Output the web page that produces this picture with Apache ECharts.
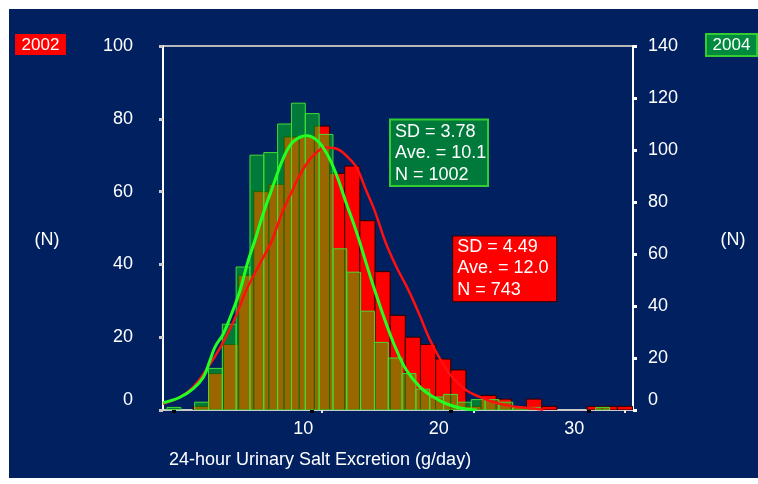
<!DOCTYPE html>
<html>
<head>
<meta charset="utf-8">
<script src="https://cdn.jsdelivr.net/npm/echarts@6/dist/echarts.min.js"></script>
<style>html,body{margin:0;padding:0;background:#fff}#c{width:758px;height:484px}</style>
</head>
<body>
<div id="c"></div>
<script>
// ---- data ----
// 2002 histogram (left axis), bins of 1 g/day centred on integers
const bins2002 = [0,1,2,3,4,5,6,7,8,9,10,11,12,13,14,15,16,17,18,19,20,21,22,23,24,25,26,27,28,29,30];
const counts2002 = [0,0,1,10,18,37,60,62,75,75,78,65,67,52,38,26,20,18,14,11,1,4,3,1,3,1,0,0,1,1,1];
// 2004 histogram (right axis)
const bins2004 = [0,1,2,3,4,5,6,7,8,9,10,11,12,13,14,15,16,17,18,19,20,21,22,23,24,25,26,27,28,29,30,31];
const counts2004 = [1,0,3,16,33,55,98,99,110,118,114,106,62,53,38,26,20,14,8,5,6,3,4,4,3,1,1,0,0,0,0,1];
// fitted curves
const curve2002X = [-0.5,0.6,1.5,2.4,3.3,4.15,5.0,5.9,6.7,7.35,8.0,8.65,9.45,10.3,11.0,11.7,12.3,12.9,13.5,14.2,14.95,15.7,16.45,17.1,17.8,18.6,19.5,20.4,21.3,22.3,23.4,24.6];
const curve2002Y = [1.7,3.5,6.3,11.3,17.3,24.2,32.9,40.2,46.6,54.0,59.9,65.4,70.0,72.1,71.7,69.5,66.5,60.5,54.5,46.0,39.0,33.0,26.0,19.5,14.0,9.0,5.5,3.6,2.2,1.2,0.6,0.1];
const curve2004X = [-0.77,0.44,1.4,2.13,2.61,2.97,3.57,4.18,4.78,5.38,5.86,6.46,7.19,7.91,8.63,9.6,10.33,11.05,11.77,12.4,13.2,13.9,14.6,15.4,16.1,16.8,17.8,18.8,19.7,20.7,21.9];
const curve2004Y = [2.8,4.9,8.2,12.6,19.1,24.2,29.3,37.1,46.0,57.6,65.3,75.6,86.5,96.8,103.2,105.5,103.8,98.7,90.3,80.5,68.5,56.5,44.8,32.5,23.0,15.5,8.8,4.9,2.4,0.8,0];
const xTickLabels = [10,20,30];
const leftTicks = [0,20,40,60,80,100];
const rightTicks = [0,20,40,60,80,100,120,140];
const stats2004 = ['SD = 3.78','Ave. = 10.1','N = 1002'];
const stats2002 = ['SD = 4.49','Ave. = 12.0','N = 743'];
const xTitle = '24-hour Urinary Salt Excretion (g/day)';

const FONT = 'Liberation Sans, Arial, sans-serif';
const chart = echarts.init(document.getElementById('c'), null, {renderer:'canvas'});

function barRenderer(fill, stroke, lw) {
  return function (params, api) {
    const v = api.value(0), h = api.value(1);
    if (!h) return null;
    const p0 = api.coord([v - 0.5, h]);
    const p1 = api.coord([v + 0.5, 0]);
    return {
      type: 'rect',
      shape: {x: p0[0], y: p0[1], width: p1[0] - p0[0], height: p1[1] - p0[1]},
      style: {fill: fill, stroke: stroke, lineWidth: lw}
    };
  };
}
const zeroFmt = v => v === 0 ? '{z|0}' : String(v);
const yLabel = (margin) => ({
  color:'#fff', fontSize:18, fontFamily:FONT, margin: margin, formatter: zeroFmt,
  rich:{z:{color:'#fff', fontSize:18, fontFamily:FONT, padding:[0,0,20,0]}}
});

chart.setOption({
  animation:false,
  backgroundColor:'#ffffff',
  grid:{left:163, right:125, top:46, bottom:74, show:true, borderColor:'#b8b8b8', borderWidth:2, backgroundColor:'transparent'},
  xAxis:[
    {type:'value', position:'bottom', min:-0.788, max:33.196,
     axisLine:{show:true, onZero:false, lineStyle:{color:'#d0d0d0', width:1.5}},
     axisTick:{show:true, customValues:[0,10,20,30], length:3, lineStyle:{color:'#000', width:4}},
     axisLabel:{show:false}, splitLine:{show:false}},
    {type:'value', position:'bottom', min:-0.495, max:30.53,
     axisLine:{show:false, onZero:false},
     axisTick:{show:true, customValues:[10,20,30], length:3, lineStyle:{color:'#e8e8e8', width:2}},
     axisLabel:{show:false}, splitLine:{show:false}},
    {type:'value', position:'bottom', min:-0.354, max:34.33,
     axisLine:{show:false, onZero:false}, axisTick:{show:false}, splitLine:{show:false},
     axisLabel:{show:true, customValues:xTickLabels, color:'#fff', fontSize:18, fontFamily:FONT, margin:10}}
  ],
  yAxis:[
    {type:'value', position:'left', min:0, max:100, interval:20,
     axisLine:{show:true, onZero:false, lineStyle:{color:'#ffffff', width:2}},
     axisTick:{show:true, length:4, lineStyle:{color:'#c8c8c8', width:3}},
     axisLabel:yLabel(30), splitLine:{show:false}},
    {type:'value', position:'right', min:0, max:140, interval:20,
     axisLine:{show:true, onZero:false, lineStyle:{color:'#ffffff', width:2}},
     axisTick:{show:true, length:4, lineStyle:{color:'#ffffff', width:3}},
     axisLabel:yLabel(15), splitLine:{show:false}}
  ],
  series:[
    {type:'custom', name:'2002', xAxisIndex:1, yAxisIndex:0, z:2, clip:true,
     renderItem: barRenderer('#ff0000', '#2a0000', 1),
     data: bins2002.map((b,i)=>[b, counts2002[i]])},
    {type:'custom', name:'2004', xAxisIndex:0, yAxisIndex:1, z:3, clip:true,
     renderItem: barRenderer('rgba(0,255,0,0.4)', '#44dd33', 1),
     data: bins2004.map((b,i)=>[b, counts2004[i]])},
    {type:'line', name:'fit2002', xAxisIndex:1, yAxisIndex:0, z:4, smooth:0.4, showSymbol:false,
     lineStyle:{color:'#ff1010', width:2.5},
     data: curve2002X.map((x,i)=>[x, curve2002Y[i]])},
    {type:'line', name:'fit2004', xAxisIndex:0, yAxisIndex:1, z:5, smooth:0.4, showSymbol:false,
     lineStyle:{color:'#22ff22', width:3},
     data: curve2004X.map((x,i)=>[x, curve2004Y[i]])}
  ],
  graphic:[
    {type:'rect', z:-10, silent:true, shape:{x:9, y:9, width:749, height:469}, style:{fill:'#002060'}},
    {type:'rect', z:10, shape:{x:15, y:34, width:51, height:21}, style:{fill:'#ff0000'}},
    {type:'text', z:11, style:{text:'2002', x:40.5, y:45, align:'center', verticalAlign:'middle', fill:'#fff', font:'17px ' + FONT}},
    {type:'rect', z:10, shape:{x:706, y:34, width:51, height:22}, style:{fill:'#008a3e', stroke:'#33cc33', lineWidth:2}},
    {type:'text', z:11, style:{text:'2004', x:731.5, y:45, align:'center', verticalAlign:'middle', fill:'#fff', font:'17px ' + FONT}},
    {type:'text', z:11, style:{text:'(N)', x:47, y:240, align:'center', verticalAlign:'middle', fill:'#fff', font:'18px ' + FONT}},
    {type:'text', z:11, style:{text:'(N)', x:733, y:240, align:'center', verticalAlign:'middle', fill:'#fff', font:'18px ' + FONT}},
    {type:'text', z:11, style:{text:xTitle, x:169, y:460, align:'left', verticalAlign:'middle', fill:'#fff', font:'18px ' + FONT}},
    {type:'rect', z:20, shape:{x:390, y:119.5, width:98, height:66.5}, style:{fill:'#007a3a', stroke:'#33cc33', lineWidth:2}},
    {type:'text', z:21, style:{text:stats2004.join('\n'), x:395, y:120.9, align:'left', verticalAlign:'top', lineHeight:21.7, fill:'#fff', font:'18px ' + FONT}},
    {type:'rect', z:20, shape:{x:452.7, y:236, width:104, height:65.7}, style:{fill:'#ff0000', stroke:'#300000', lineWidth:1}},
    {type:'text', z:21, style:{text:stats2002.join('\n'), x:457.3, y:235.9, align:'left', verticalAlign:'top', lineHeight:21.7, fill:'#fff', font:'18px ' + FONT}}
  ]
});
</script>
</body>
</html>
